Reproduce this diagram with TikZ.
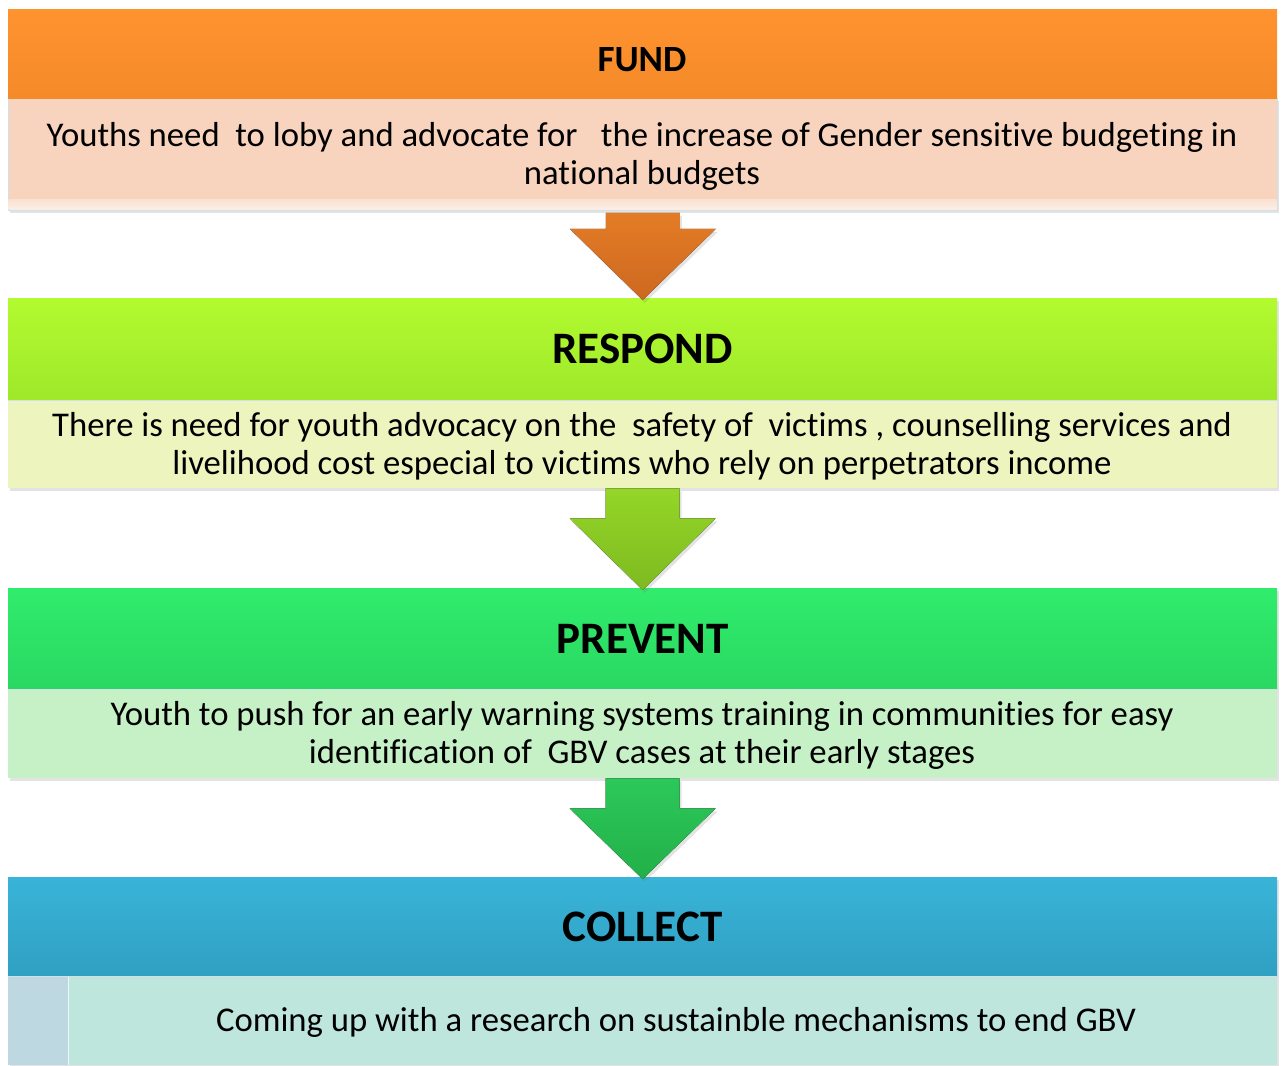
\documentclass[tikz,border=0pt]{standalone}
\usepackage{fontspec}
\setmainfont[Ligatures=NoCommon]{Carlito}
\usetikzlibrary{shadows,calc}
\definecolor{fundTop}{HTML}{FF9330}
\definecolor{fundBot}{HTML}{F48A28}
\definecolor{fundBody}{HTML}{F8D4BE}
\definecolor{arrA1}{HTML}{E47C26}
\definecolor{arrA2}{HTML}{CD681F}
\definecolor{respTop}{HTML}{B2FB30}
\definecolor{respBot}{HTML}{9FE82A}
\definecolor{respBody}{HTML}{EEF4BE}
\definecolor{arrB1}{HTML}{94D628}
\definecolor{arrB2}{HTML}{7EBA20}
\definecolor{prevTop}{HTML}{30EC6C}
\definecolor{prevBot}{HTML}{2AD862}
\definecolor{prevBody}{HTML}{C6F0C6}
\definecolor{arrC1}{HTML}{2CC85A}
\definecolor{arrC2}{HTML}{22B048}
\definecolor{collTop}{HTML}{38B4D8}
\definecolor{collBot}{HTML}{30A0C2}
\definecolor{collBody}{HTML}{BEE6DC}
\definecolor{collSide}{HTML}{BED8E2}
\definecolor{edgeBlue}{HTML}{CFE2EA}
\tikzset{
  boxshadow/.style={drop shadow={opacity=0.22, shadow xshift=2pt, shadow yshift=-3pt}},
  header/.style={anchor=north west, minimum width=1269pt, inner sep=0pt, font=\bfseries\fontsize{45}{50}\selectfont, text=black},
  bodybox/.style={anchor=north west, minimum width=1269pt, inner sep=0pt},
  bodytext/.style={align=center, inner sep=0pt, font=\fontsize{34.7}{38}\selectfont, text=black},
  arrowshape/.style={boxshadow},
}
\begin{document}
\begin{tikzpicture}[x=1pt,y=-1pt]
\useasboundingbox (0,0) rectangle (1281,1065);
% FUND
\node[bodybox, boxshadow, fill=fundBody, draw=edgeBlue, line width=0.8pt, minimum height=112pt] (fb) at (8,98) {};
\shade[top color=fundBody!70!white, bottom color=fundBody!40!white] (8.5,199) rectangle (1276.5,209.5);
\node[header, top color=fundTop, bottom color=fundBot, minimum height=89pt] (fh) at (8,9) {};
\node[font=\bfseries\fontsize{37}{40}\selectfont, inner sep=0pt] (fl) at (642,60) {FUND};
\node[bodytext] (ft) at (642,156) {Youths need~ to loby and advocate for~~ the increase of Gender sensitive budgeting in\\national budgets};
% RESPOND
\node[header, boxshadow, top color=respTop, bottom color=respBot, minimum height=102pt] (rh) at (8,298) {RESPOND};
\node[bodybox, boxshadow, fill=respBody, minimum height=88pt] (rb) at (8,400) {};
\draw[edgeBlue, line width=0.8pt] (rb.north west) -- (rb.north east);
\node[bodytext] (rt) at (642,446) {There is need for youth advocacy on the~ safety of~ victims , counselling services and\\livelihood cost especial to victims who rely on perpetrators income};
% PREVENT
\node[header, boxshadow, top color=prevTop, bottom color=prevBot, minimum height=101pt] (ph) at (8,588) {PREVENT};
\node[bodybox, boxshadow, fill=prevBody, minimum height=89pt] (pb) at (8,689) {};
\draw[edgeBlue, line width=0.8pt] (pb.north west) -- (pb.north east);
\node[bodytext] (pt) at (642,735) {Youth to push for an early warning systems training in communities for easy\\identification of~ GBV cases at their early stages};
% COLLECT
\node[header, boxshadow, top color=collTop, bottom color=collBot, minimum height=99pt] (ch) at (8,877) {COLLECT};
\node[bodybox, boxshadow, fill=collBody, minimum height=89pt] (cb) at (8,976) {};
\node[anchor=north west, fill=collSide, minimum width=60pt, minimum height=89pt, inner sep=0pt] (cs) at (8,976) {};
\draw[white!70!collBody, line width=1pt] (cs.north east) -- (cs.south east);
\draw[edgeBlue, line width=0.8pt] (cb.north west) -- (cb.north east);
\node[bodytext] (ct) at (676,1022) {Coming up with a research on sustainble mechanisms to end GBV};
% arrow 1
\fill[top color=arrA1, bottom color=arrA2, arrowshape]
  ([xshift=-37pt,yshift=-2pt]fb.south) -- ([xshift=-37pt,yshift=-18pt]fb.south) -- ([xshift=-73pt,yshift=-18pt]fb.south)
  -- ([yshift=-2pt]rh.north) -- ([xshift=73pt,yshift=-18pt]fb.south) -- ([xshift=37pt,yshift=-18pt]fb.south)
  -- ([xshift=37pt,yshift=-2pt]fb.south) -- cycle;
% arrow 2
\fill[top color=arrB1, bottom color=arrB2, arrowshape]
  ([xshift=-37pt]rb.south) -- ([xshift=-37pt,yshift=-30pt]rb.south) -- ([xshift=-73pt,yshift=-30pt]rb.south)
  -- ([yshift=-2pt]ph.north) -- ([xshift=73pt,yshift=-30pt]rb.south) -- ([xshift=37pt,yshift=-30pt]rb.south)
  -- ([xshift=37pt]rb.south) -- cycle;
% arrow 3
\fill[top color=arrC1, bottom color=arrC2, arrowshape]
  ([xshift=-37pt]pb.south) -- ([xshift=-37pt,yshift=-30pt]pb.south) -- ([xshift=-73pt,yshift=-30pt]pb.south)
  -- ([yshift=-2pt]ch.north) -- ([xshift=73pt,yshift=-30pt]pb.south) -- ([xshift=37pt,yshift=-30pt]pb.south)
  -- ([xshift=37pt]pb.south) -- cycle;
\end{tikzpicture}
\end{document}
